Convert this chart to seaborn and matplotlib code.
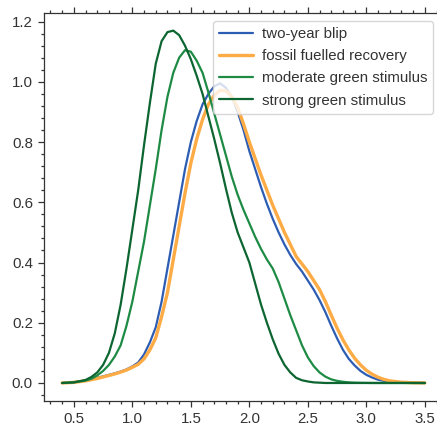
import matplotlib
matplotlib.use("Agg")
import matplotlib.pyplot as plt
from matplotlib.ticker import AutoMinorLocator, MultipleLocator
import seaborn as sns
import pandas as pd

x = [0.4, 0.5, 0.6, 0.65, 0.7, 0.75, 0.8, 0.85, 0.9, 0.95, 1.0, 1.05, 1.1, 1.15, 1.2,
     1.25, 1.3, 1.35, 1.4, 1.45, 1.5, 1.55, 1.6, 1.65, 1.7, 1.75, 1.8, 1.85, 1.9, 1.95,
     2.0, 2.05, 2.1, 2.15, 2.2, 2.25, 2.3, 2.35, 2.4, 2.45, 2.5, 2.55, 2.6, 2.65, 2.7,
     2.75, 2.8, 2.85, 2.9, 2.95, 3.0, 3.05, 3.1, 3.15, 3.2, 3.3, 3.4, 3.5]

two_year_blip = [0.0, 0.003, 0.008, 0.012, 0.017, 0.022, 0.027, 0.032, 0.038, 0.045, 0.055,
                 0.068, 0.095, 0.135, 0.185, 0.27, 0.38, 0.49, 0.60, 0.71, 0.80, 0.87,
                 0.925, 0.96, 0.985, 0.995, 0.98, 0.95, 0.90, 0.84, 0.77, 0.71, 0.65, 0.595,
                 0.545, 0.50, 0.46, 0.425, 0.395, 0.37, 0.34, 0.31, 0.275, 0.235, 0.19,
                 0.148, 0.11, 0.08, 0.058, 0.04, 0.027, 0.018, 0.011, 0.007, 0.004, 0.0015,
                 0.0005, 0.0]

fossil_fuelled = [0.0, 0.002, 0.007, 0.011, 0.015, 0.02, 0.025, 0.03, 0.036, 0.043, 0.052,
                  0.062, 0.08, 0.11, 0.15, 0.22, 0.30, 0.41, 0.52, 0.63, 0.73, 0.81, 0.875,
                  0.925, 0.955, 0.972, 0.97, 0.95, 0.915, 0.86, 0.80, 0.745, 0.69, 0.64,
                  0.59, 0.545, 0.50, 0.46, 0.42, 0.395, 0.37, 0.34, 0.31, 0.27, 0.225,
                  0.182, 0.143, 0.11, 0.082, 0.06, 0.042, 0.029, 0.019, 0.012, 0.007,
                  0.0025, 0.0008, 0.0002]

moderate_green = [0.0, 0.002, 0.008, 0.014, 0.025, 0.04, 0.06, 0.088, 0.125, 0.19, 0.27,
                  0.37, 0.47, 0.59, 0.71, 0.84, 0.95, 1.03, 1.08, 1.105, 1.10, 1.07, 1.03,
                  0.965, 0.895, 0.825, 0.755, 0.685, 0.625, 0.575, 0.53, 0.485, 0.445, 0.41,
                  0.38, 0.335, 0.28, 0.225, 0.175, 0.125, 0.085, 0.056, 0.035, 0.021, 0.012,
                  0.007, 0.004, 0.002, 0.001, 0.0005, 0.0003, 0.0, 0.0, 0.0, 0.0, 0.0, 0.0,
                  0.0]

strong_green = [0.0, 0.002, 0.01, 0.02, 0.035, 0.06, 0.10, 0.165, 0.26, 0.38, 0.51,
                0.64, 0.79, 0.93, 1.06, 1.135, 1.165, 1.17, 1.155, 1.12, 1.075, 1.02, 0.96,
                0.885, 0.81, 0.73, 0.645, 0.565, 0.50, 0.45, 0.40, 0.33, 0.26, 0.20, 0.145,
                0.097, 0.06, 0.035, 0.017, 0.009, 0.005, 0.002, 0.001, 0.0, 0.0, 0.0, 0.0,
                0.0, 0.0, 0.0, 0.0, 0.0, 0.0, 0.0, 0.0, 0.0, 0.0, 0.0]

labels = ["two-year blip", "fossil fuelled recovery",
          "moderate green stimulus", "strong green stimulus"]
colors = ["#2d5db3", "#fdab45", "#1e8b45", "#0d6631"]
widths = [1.6, 2.4, 1.6, 1.6]

sns.set_style("ticks")
plt.rcParams["font.family"] = ["Liberation Sans", "DejaVu Sans"]
plt.rcParams["text.color"] = "#333333"
plt.rcParams["xtick.color"] = "#333333"
plt.rcParams["ytick.color"] = "#333333"
plt.rcParams["axes.edgecolor"] = "#333333"

fig = plt.figure(figsize=(4.37, 4.25), dpi=100)
ax = fig.add_axes([44 / 437, 24.4 / 425, 399 / 437, 387.6 / 425])

series = [two_year_blip, fossil_fuelled, moderate_green, strong_green]
for vals, lab, col, lw in zip(series, labels, colors, widths):
    df = pd.DataFrame({"x": x, "y": vals})
    sns.lineplot(data=df, x="x", y="y", ax=ax, color=col, linewidth=lw, label=lab)

ax.set_xlim(0.245, 3.655)
ax.set_ylim(-0.0585, 1.2285)
ax.set_xlabel("")
ax.set_ylabel("")
ax.xaxis.set_major_locator(MultipleLocator(0.5))
ax.yaxis.set_major_locator(MultipleLocator(0.2))
ax.xaxis.set_minor_locator(AutoMinorLocator(5))
ax.yaxis.set_minor_locator(AutoMinorLocator(5))
ax.spines["right"].set_visible(False)
ax.tick_params(which="both", direction="out", top=True, right=False,
               labeltop=False, labelsize=10.8, width=0.9)
ax.tick_params(which="major", length=4.5)
ax.tick_params(which="minor", length=2.5)
for s in ["left", "bottom", "top"]:
    ax.spines[s].set_linewidth(0.9)

leg = ax.legend(loc="upper right", fontsize=10.8, handlelength=2.25,
                handletextpad=0.6, borderpad=0.4, borderaxespad=0.0,
                labelspacing=0.55,
                frameon=True, framealpha=0.8, edgecolor="#cccccc",
                bbox_to_anchor=(0.975, 0.980))

fig.savefig("out.png", dpi=100)
